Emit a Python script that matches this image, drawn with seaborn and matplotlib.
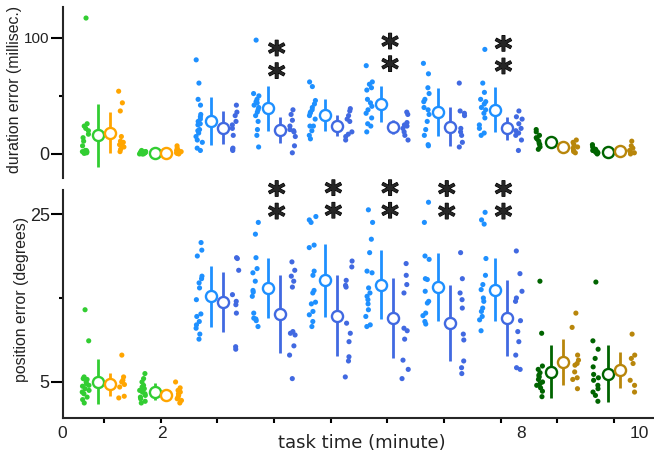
import numpy as np
import pandas as pd
import matplotlib
matplotlib.use("Agg")
import matplotlib.pyplot as plt
import matplotlib.patheffects as pe
from matplotlib import font_manager
import seaborn as sns

# ---------------- data ----------------
groups = list(range(10))

# duration error (millisec.) - individual subjects, left / right condition per group
dur_left = [
    [117, 26, 24, 22, 20, 17, 14, 11, 7, 3, 2, 1, 1, 0.5, 2, 3],
    [3, 2, 2, 1, 1, 1, 0.5, 0, 0, 1, 2, 1.5, 0.5, 0],
    [81, 61, 47, 42, 34, 32, 30, 28, 26, 25, 21, 20, 18, 15, 12, 10, 5, 3],
    [98, 52, 50, 47, 45, 44, 42, 40, 38, 36, 33, 28, 21, 16, 6],
    [62, 58, 46, 43, 40, 38, 36, 35, 33, 30, 24, 24, 20, 16, 13],
    [76, 62, 60, 57, 55, 47, 44, 41, 38, 35, 31, 26, 24, 19],
    [78, 69, 57, 52, 47, 45, 40, 38, 34, 28, 21, 16, 8, 7],
    [90, 61, 53, 47, 45, 43, 40, 38, 35, 31, 25, 22, 18, 16],
    [21, 19, 16, 14, 13, 11, 9, 8, 6, 4],
    [8, 6, 4, 3, 2, 1, 1, 0, 2, 3],
]
dur_right = [
    [54, 44, 37, 15, 11, 10, 9, 8, 7, 6, 4, 2],
    [7, 5, 3, 2, 1, 1, 0.5, 2, 1, 3, 0],
    [42, 36, 33, 28, 25, 22, 16, 5, 4, 3],
    [38, 34, 29, 24, 21, 20, 19, 15, 7, 1],
    [39, 37, 33, 30, 28, 19, 17, 15, 12],
    [36, 34, 27, 25, 24, 22, 19, 16, 12],
    [61, 37, 35, 33, 22, 19, 16, 10, 6],
    [37, 32, 30, 26, 22, 20, 18, 16, 12, 3],
    [12, 10, 8, 6, 5, 3, 2, 1],
    [11, 7, 5, 3, 2, 1, 0],
]
dur_left_mean = [16, 0.8, 28.4, 39.4, 33.6, 43.1, 35.9, 37.9, 10.6, 1.4]
dur_left_err = [27, 1, 20.3, 19.3, 14, 15.5, 20.8, 19.4, 4, 2]
dur_right_mean = [18.4, 1.0, 22.7, 20.7, 24.4, 23.0, 23.6, 22.1, 5.7, 2.6]
dur_right_err = [17.5, 1, 14.3, 11, 9.3, 5.8, 16.6, 9.9, 3, 3]

# position error (degrees)
pos_left = [
    [13.6, 9.9, 5.6, 5.4, 5.3, 5.0, 4.8, 4.5, 4.2, 3.8, 3.6, 3.2, 2.9, 2.5, 4.0, 4.6],
    [6.0, 5.4, 5.0, 4.6, 4.4, 4.2, 4.0, 3.8, 3.6, 3.4, 3.2, 3.0, 2.7, 2.5],
    [21.6, 20.7, 20.0, 17.6, 17.3, 16.8, 16.2, 14.8, 13.1, 12.8, 12.2, 11.8, 11.4, 10.7, 10.1],
    [24.0, 22.6, 19.8, 18.5, 18.0, 17.0, 15.9, 15.7, 15.2, 13.2, 12.6, 12.5, 12.3, 11.6],
    [24.7, 24.3, 24.0, 21.3, 21.0, 18.2, 17.7, 15.9, 15.6, 14.5, 14.3, 13.4, 13.0, 12.2, 11.6],
    [25.5, 24.0, 22.0, 20.4, 18.2, 18.0, 16.2, 15.6, 15.2, 14.8, 14.3, 13.6, 12.8, 11.8, 11.6],
    [26.4, 24.0, 20.0, 19.6, 17.3, 17.2, 15.8, 14.6, 14.4, 13.2, 12.9, 12.2, 11.9],
    [25.2, 24.3, 23.8, 19.7, 17.7, 16.6, 16.0, 15.0, 14.6, 13.8, 13.4, 12.8, 12.4, 11.1],
    [17.0, 10.8, 6.9, 6.5, 6.1, 5.8, 5.6, 5.3, 5.0, 4.8, 4.6, 4.3, 3.9, 3.25],
    [16.9, 9.9, 8.9, 7.8, 6.8, 5.9, 5.5, 5.2, 4.6, 4.2, 3.8, 3.4, 2.7],
]
pos_right = [
    [8.2, 5.6, 5.2, 5.0, 4.7, 4.4, 3.3, 3.1],
    [5.0, 4.3, 4.0, 3.8, 3.6, 3.4, 3.2, 3.0, 2.8, 2.5],
    [19.8, 19.7, 18.3, 15.4, 14.6, 14.2, 13.2, 9.2, 8.9],
    [19.3, 18.3, 17.6, 17.0, 16.3, 11.0, 10.8, 10.6, 9.3, 8.2, 5.4],
    [19.4, 18.7, 17.1, 16.5, 16.3, 12.0, 10.8, 9.8, 8.0, 7.5, 5.6],
    [19.1, 17.7, 16.6, 15.6, 11.4, 11.1, 10.1, 7.6, 6.5, 5.4],
    [20.4, 17.3, 15.6, 14.8, 13.8, 10.7, 10.0, 7.5, 6.7, 6.0],
    [20.6, 17.9, 15.8, 15.0, 14.6, 12.3, 11.0, 9.8, 8.2, 6.7, 6.5],
    [13.2, 11.5, 8.2, 7.6, 7.2, 7.0, 6.2, 5.5, 5.3, 4.2],
    [10.7, 8.2, 7.8, 7.2, 5.2, 4.6, 3.8],
]
pos_left_mean = [5.04, 3.85, 15.2, 16.2, 17.1, 16.6, 16.3, 16.0, 6.2, 6.0]
pos_left_err = [2.7, 1.0, 3.6, 3.6, 4.35, 4.15, 4.05, 3.75, 3.15, 3.35]
pos_right_mean = [4.7, 3.5, 14.5, 13.1, 12.9, 12.6, 12.0, 12.6, 7.4, 6.4]
pos_right_err = [1.4, 0.4, 3.6, 4.6, 4.8, 4.75, 4.5, 4.5, 2.75, 2.15]

left_cond = ["pre_L"] * 2 + ["task_L"] * 6 + ["post_L"] * 2
right_cond = ["pre_R"] * 2 + ["task_R"] * 6 + ["post_R"] * 2
palette = {
    "pre_L": "limegreen", "pre_R": "orange",
    "task_L": "dodgerblue", "task_R": "royalblue",
    "post_L": "darkgreen", "post_R": "darkgoldenrod",
}

dur_sig_groups = [3, 5, 7]
dur_sig_y = [75, 81, 79]
pos_sig_groups = [3, 4, 5, 6, 7]
pos_sig_y = [25.8, 25.9, 25.9, 25.8, 25.8]

xtick_text = ["0", "2", "8", "10"]
xtick_text_pos = [-0.74, 1.02, 7.36, 9.44]

# ---------------- layout / style ----------------
DOT_OFF = 0.32
MEAN_OFF = 0.105

sns.set_style("ticks")
plt.rcParams["font.family"] = ["Liberation Sans", "DejaVu Sans"]
np.random.seed(3)

installed = {f.name for f in font_manager.fontManager.ttflist}
has_narrow = "Liberation Sans Narrow" in installed

W, H = 654, 458
fig = plt.figure(figsize=(W / 100, H / 100), dpi=100)
ax_top = fig.add_axes([63 / W, 1 - 178 / H, 591 / W, 171 / H])
ax_bot = fig.add_axes([63 / W, 1 - 418 / H, 591 / W, 228 / H])


def long_frame(left, right):
    rows = []
    for i in groups:
        for v in left[i]:
            rows.append((i - DOT_OFF, v, left_cond[i]))
        for v in right[i]:
            rows.append((i + DOT_OFF, v, right_cond[i]))
    return pd.DataFrame(rows, columns=["x", "value", "cond"])


def draw_panel(ax, left, right, lm, le, rm, re_):
    df = long_frame(left, right)
    sns.stripplot(data=df, x="x", y="value", hue="cond", palette=palette,
                  native_scale=True, jitter=0.17, size=3.7, linewidth=0,
                  legend=False, orient="x", ax=ax, zorder=2)
    for i in groups:
        for side, m, e, cond in ((-1, lm, le, left_cond), (1, rm, re_, right_cond)):
            c = palette[cond[i]]
            ax.errorbar(i + side * MEAN_OFF, m[i], yerr=e[i], fmt="o", color=c,
                        mfc="white", mec=c, ms=8, mew=1.7, elinewidth=2.0,
                        capsize=0, zorder=3)


draw_panel(ax_top, dur_left, dur_right, dur_left_mean, dur_left_err,
           dur_right_mean, dur_right_err)
draw_panel(ax_bot, pos_left, pos_right, pos_left_mean, pos_left_err,
           pos_right_mean, pos_right_err)

star_fx = [pe.withStroke(linewidth=0.9, foreground="black")]
for ax, gs, ys in ((ax_top, dur_sig_groups, dur_sig_y),
                   (ax_bot, pos_sig_groups, pos_sig_y)):
    for g, y in zip(gs, ys):
        ax.text(g + 0.05, y, "*\n*", ha="center", va="center", fontsize=24,
                fontweight="bold", linespacing=0.6, family="DejaVu Sans",
                path_effects=star_fx)

xlim = (-0.72, 9.705)
for ax in (ax_top, ax_bot):
    ax.set_xlim(*xlim)
    sns.despine(ax=ax)
    ax.spines["left"].set_linewidth(1.5)
    ax.spines["bottom"].set_linewidth(1.5)
    ax.tick_params(axis="y", which="major", length=9, width=1.5, pad=0.5,
                   labelsize=13, color="black", labelcolor="#222222")
    ax.tick_params(axis="y", which="minor", length=3, width=1.5, color="black")
    ax.set_xlabel("")
    ax.set_ylabel("")

ax_top.set_ylim(-20.7, 126.5)
ax_top.set_yticks([0, 100])
ax_top.set_yticks([50], minor=True)
ax_top.spines["bottom"].set_visible(False)
ax_top.set_xticks([])
for lab in ax_top.get_yticklabels():
    if lab.get_text() == "100":
        if has_narrow:
            lab.set_family(["Liberation Sans Narrow", "DejaVu Sans"])
        else:
            lab.set_fontsize(11)

ax_bot.set_ylim(0.71, 27.86)
ax_bot.set_yticks([5, 25])
ax_bot.set_yticks([15], minor=True)
ax_bot.set_xticks(groups)
ax_bot.set_xticklabels([""] * len(groups))
ax_bot.tick_params(axis="x", length=3.6, width=1.5, color="black")

for lab, xp in zip(xtick_text, xtick_text_pos):
    ax_bot.text(xp, -0.066, lab, transform=ax_bot.get_xaxis_transform(),
                ha="center", va="center", fontsize=12.5, color="#222222")

ax_bot.set_xlabel("task time (minute)", fontsize=13, family="DejaVu Sans",
                  color="#222222")
ax_bot.xaxis.set_label_coords(0.506, -0.07)

ax_top.set_ylabel("duration error (millisec.)", fontsize=11.4, color="#222222")
ax_top.yaxis.set_label_coords(-0.07, 0.52)
ax_bot.set_ylabel("position error (degrees)", fontsize=11.4, color="#222222")
ax_bot.yaxis.set_label_coords(-0.058, 0.518)

fig.savefig("out.png", dpi=100)
